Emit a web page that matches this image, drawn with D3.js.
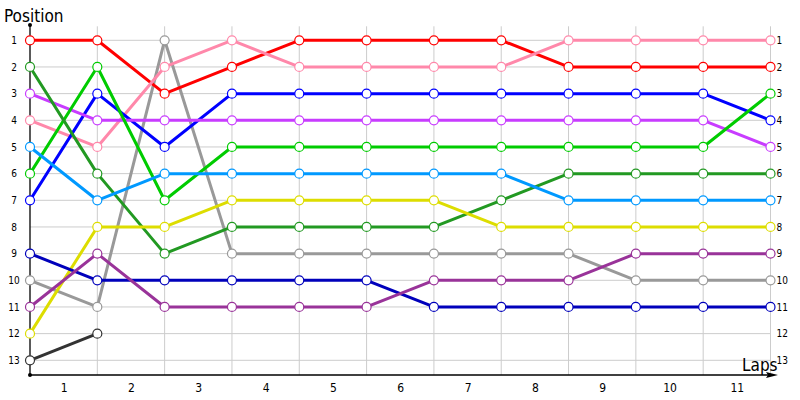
<!DOCTYPE html>
<html>
<head>
<meta charset="utf-8">
<script src="https://cdn.jsdelivr.net/npm/d3@7"></script>
<style>
  body { margin: 0; background: #fff; }
  svg { font-family: "DejaVu Sans Condensed", "DejaVu Sans", sans-serif; }
</style>
</head>
<body>
<svg id="chart"></svg>
<script>
const width = 800;
const height = 400;
const font = '"DejaVu Sans Condensed", "DejaVu Sans", sans-serif';

// laps 0..11 are the grid lines, lap labels sit between them
const laps = d3.range(0, 12);
const lapLabels = d3.range(1, 12);
const positions = d3.range(1, 14);

const seriesNames = ['gray', 'red', 'pink', 'blue', 'purple', 'green', 'darkGreen',
                     'lightBlue', 'yellow', 'darkBlue', 'magenta', 'black'];
const seriesColors = ['#999999', '#ff0000', '#ff88aa', '#0000ff', '#c83cff', '#00cc00', '#229922',
                      '#0099ff', '#dddd00', '#0000bb', '#993399', '#333333'];

const gray      = [10, 11, 1, 9, 9, 9, 9, 9, 9, 10, 10, 10];
const red       = [1, 1, 3, 2, 1, 1, 1, 1, 2, 2, 2, 2];
const pink      = [4, 5, 2, 1, 2, 2, 2, 2, 1, 1, 1, 1];
const blue      = [7, 3, 5, 3, 3, 3, 3, 3, 3, 3, 3, 4];
const purple    = [3, 4, 4, 4, 4, 4, 4, 4, 4, 4, 4, 5];
const green     = [6, 2, 7, 5, 5, 5, 5, 5, 5, 5, 5, 3];
const darkGreen = [2, 6, 9, 8, 8, 8, 8, 7, 6, 6, 6, 6];
const lightBlue = [5, 7, 6, 6, 6, 6, 6, 6, 7, 7, 7, 7];
const yellow    = [12, 8, 8, 7, 7, 7, 7, 8, 8, 8, 8, 8];
const darkBlue  = [9, 10, 10, 10, 10, 10, 11, 11, 11, 11, 11, 11];
const magenta   = [11, 9, 11, 11, 11, 11, 10, 10, 10, 9, 9, 9];
const black     = [13, 12];

const seriesValues = [gray, red, pink, blue, purple, green, darkGreen,
                      lightBlue, yellow, darkBlue, magenta, black];

const svg = d3.select('#chart')
            .attr('width', width)
            .attr('height', height);

const x = d3.scaleLinear().domain([0, 11]).range([30, 770.5]);
const y = d3.scaleLinear().domain([1, 13]).range([40.3, 360.3]);
const axisY = 375;

// grid
svg.append('g').selectAll('line')
    .data(laps.slice(1)).enter().append('line')
    .attr('x1', d => x(d)).attr('x2', d => x(d))
    .attr('y1', y(1) - 14).attr('y2', axisY)
    .attr('stroke', '#cccccc').attr('stroke-width', 1);

svg.append('g').selectAll('line')
    .data(positions).enter().append('line')
    .attr('x1', x(0)).attr('x2', x(11))
    .attr('y1', d => y(d)).attr('y2', d => y(d))
    .attr('stroke', '#cccccc').attr('stroke-width', 1);

// axes
const yAxis = svg.append('g').attr('transform', `translate(${x(0)}, 0)`)
    .call(d3.axisLeft(y).tickValues(positions).tickSize(0).tickPadding(16).tickFormat(d3.format('d')));
yAxis.select('.domain').remove();
yAxis.selectAll('text').attr('text-anchor', 'middle').attr('font-size', 10)
    .attr('font-family', font).attr('fill', '#000');

const yAxisR = svg.append('g').attr('transform', `translate(${x(11)}, 0)`)
    .call(d3.axisRight(y).tickValues(positions).tickSize(0).tickPadding(6).tickFormat(d3.format('d')));
yAxisR.select('.domain').remove();
yAxisR.selectAll('text').attr('font-size', 10)
    .attr('font-family', font).attr('fill', '#000');

const xAxis = svg.append('g').attr('transform', `translate(0, ${axisY})`)
    .call(d3.axisBottom(x).tickValues(lapLabels.map(d => d - 0.5)).tickSize(0).tickPadding(8)
        .tickFormat(d => d3.format('d')(d + 0.5)));
xAxis.select('.domain').remove();
xAxis.selectAll('text').attr('font-size', 12)
    .attr('font-family', font).attr('fill', '#000');

svg.append('line')
    .attr('x1', x(0)).attr('x2', x(0)).attr('y1', 25).attr('y2', axisY)
    .attr('stroke', '#000').attr('stroke-width', 1.3);
svg.append('circle').attr('cx', x(0)).attr('cy', 25).attr('r', 2).attr('fill', '#000');
svg.append('circle').attr('cx', x(0)).attr('cy', axisY).attr('r', 2).attr('fill', '#000');

svg.append('line')
    .attr('x1', x(0)).attr('x2', 772).attr('y1', axisY).attr('y2', axisY)
    .attr('stroke', '#000').attr('stroke-width', 1.3);
svg.append('path')
    .attr('d', `M778,${axisY} L766,${axisY - 3} L768,${axisY} L766,${axisY + 3} Z`)
    .attr('fill', '#000');

svg.append('text').attr('x', 4).attr('y', 22).text('Position')
    .attr('font-size', 17).attr('fill', '#000');
svg.append('text').attr('x', 742).attr('y', 371).text('Laps')
    .attr('font-size', 17).attr('fill', '#000');

// series
const line = d3.line().x((d, i) => x(i)).y(d => y(d));

const groups = svg.append('g').selectAll('g')
    .data(seriesValues).enter().append('g');

groups.append('path')
    .attr('d', d => line(d))
    .attr('fill', 'none')
    .attr('stroke', (d, i) => seriesColors[i])
    .attr('stroke-width', 3)
    .attr('stroke-linejoin', 'round');

groups.each(function(values, i) {
    d3.select(this).selectAll('circle')
        .data(values).enter().append('circle')
        .attr('cx', (d, j) => x(j))
        .attr('cy', d => y(d))
        .attr('r', 4.5)
        .attr('fill', '#fff')
        .attr('stroke', seriesColors[i])
        .attr('stroke-width', 1.2);
});
</script>
</body>
</html>
